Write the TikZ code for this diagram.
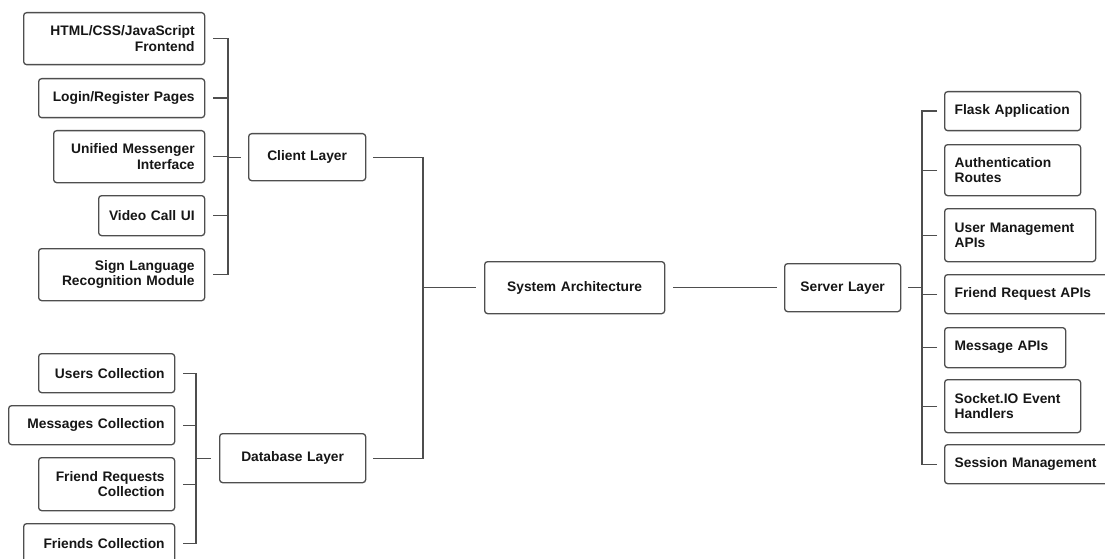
\documentclass[tikz,border=0pt]{standalone}
\usepackage{fontspec}
\setmainfont{Liberation Sans}
\definecolor{linegray}{HTML}{4E4E4E}
\definecolor{txt}{HTML}{161616}
\begin{document}
\begin{tikzpicture}[x=1pt,y=-1pt,
  box/.style={draw=linegray, line width=1.3pt, rounded corners=3pt, fill=white,
    font=\bfseries\fontsize{13.8}{15.5}\selectfont, text=txt,
    inner xsep=10pt, inner ysep=0pt, anchor=north west},
  lbox/.style={box, align=right},
  rbox/.style={box, align=left},
  cbox/.style={box, align=center},
  conn/.style={draw=linegray, line width=1.3pt}]
\useasboundingbox (0,0) rectangle (1105,559);
% client children
\node[lbox, text width=161pt, minimum height=52pt] (html) at (23,12) {HTML/CSS/JavaScript\\Frontend};
\node[lbox, text width=146pt, minimum height=39pt] (login) at (38,78) {Login/Register Pages};
\node[lbox, text width=131pt, minimum height=52pt] (unified) at (53,130) {Unified Messenger\\Interface};
\node[lbox, text width=86pt, minimum height=40pt] (video) at (98,195) {Video Call UI};
\node[lbox, text width=146pt, minimum height=52pt] (sign) at (38,248) {Sign Language\\Recognition Module};
\node[cbox, text width=97pt, minimum height=47pt] (client) at (248,133) {Client Layer};
% database children
\node[lbox, text width=116pt, minimum height=39pt] (users) at (38,353) {Users Collection};
\node[lbox, text width=146pt, minimum height=39pt] (msgs) at (8,405) {Messages Collection};
\node[lbox, text width=116pt, minimum height=53pt] (freq) at (38,457) {Friend Requests\\Collection};
\node[lbox, text width=131pt, minimum height=39pt] (friends) at (23,523) {Friends Collection};
\node[cbox, text width=126pt, minimum height=49pt] (database) at (219,433) {Database Layer};
% centre
\node[cbox, text width=160pt, minimum height=52pt] (sys) at (484,261) {System Architecture};
\node[cbox, text width=96pt, minimum height=48pt] (server) at (784,263) {Server Layer};
% server children
\node[rbox, text width=116pt, minimum height=39pt] (flask) at (944,91) {Flask Application};
\node[rbox, text width=116pt, minimum height=51pt] (auth) at (944,144) {Authentication\\Routes};
\node[rbox, text width=131pt, minimum height=53pt] (usermgmt) at (944,208) {User Management\\APIs};
\node[rbox, text width=150pt, minimum height=39pt] (friendapi) at (944,274) {Friend Request APIs};
\node[rbox, text width=101pt, minimum height=40pt] (msgapi) at (944,327) {Message APIs};
\node[rbox, text width=116pt, minimum height=53pt] (socket) at (944,379) {Socket.IO Event\\Handlers};
\node[rbox, text width=150pt, minimum height=39pt] (session) at (944,444) {Session Management};
% bracket coordinates
\coordinate (cb) at (228,156);
\coordinate (db) at (196,457);
\coordinate (sb) at (423,287);
\coordinate (vb) at (922,287);
% client bracket
\draw[conn] ([xshift=8pt]html.east) -| (sign.east -| cb) -- ([xshift=8pt]sign.east);
\foreach \n in {login,unified,video} \draw[conn] ([xshift=8pt]\n.east) -- (\n.east -| cb);
\draw[conn] (client.west -| cb) -- ([xshift=-7pt]client.west);
% database bracket
\draw[conn] ([xshift=8pt]users.east) -| (friends.east -| db) -- ([xshift=8pt]friends.east);
\foreach \n in {msgs,freq} \draw[conn] ([xshift=8pt]\n.east) -- (\n.east -| db);
\draw[conn] (database.west -| db) -- ([xshift=-8pt]database.west);
% system bracket
\draw[conn] ([xshift=7pt]client.east) -| (database.east -| sb) -- ([xshift=7pt]database.east);
\draw[conn] (sys.west -| sb) -- ([xshift=-8pt]sys.west);
\draw[conn] ([xshift=8pt]sys.east) -- ([xshift=-7pt]server.west);
% server bracket
\draw[conn] ([xshift=7pt]server.east) -- (server.east -| vb);
\draw[conn] ([xshift=-7pt]flask.west) -| (session.west -| vb) -- ([xshift=-7pt]session.west);
\foreach \n in {auth,usermgmt,friendapi,msgapi,socket} \draw[conn] ([xshift=-7pt]\n.west) -- (\n.west -| vb);
\end{tikzpicture}
\end{document}
